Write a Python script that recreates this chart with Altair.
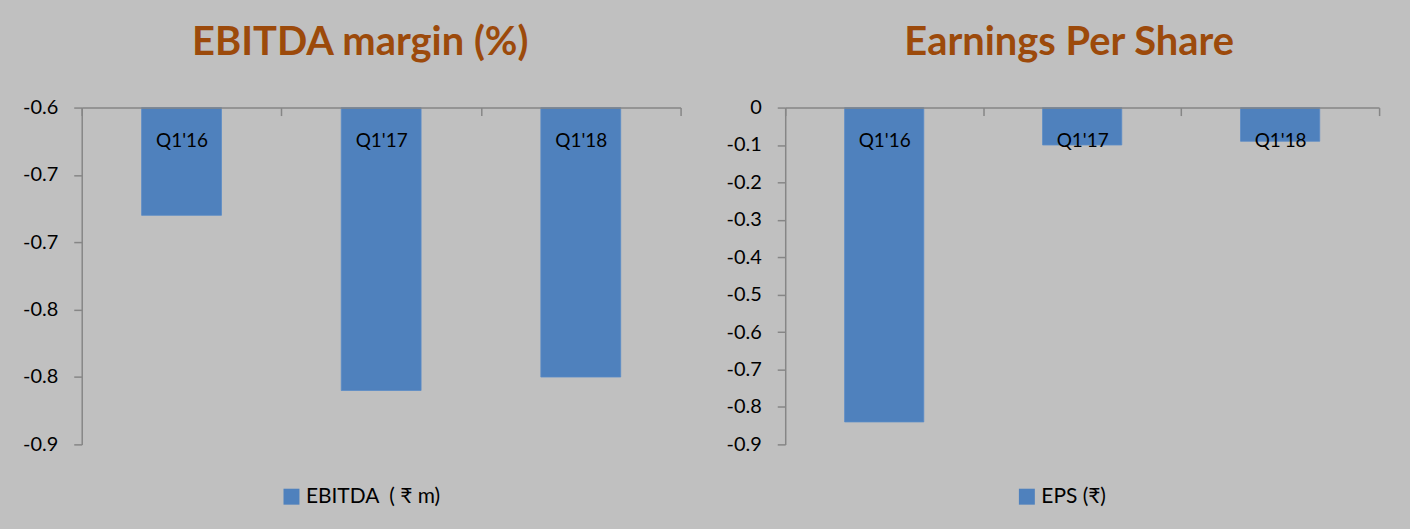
import json
import altair as alt
import pandas as pd

quarters = ["Q1'16", "Q1'17", "Q1'18"]
ebitda_values = [-0.68, -0.81, -0.80]
eps_values = [-0.84, -0.10, -0.09]

ebitda_ticks = [-0.6, -0.65, -0.7, -0.75, -0.8, -0.85]
ebitda_tick_labels = ["-0.6", "-0.7", "-0.7", "-0.8", "-0.8", "-0.9"]
eps_ticks = [0, -0.1, -0.2, -0.3, -0.4, -0.5, -0.6, -0.7, -0.8, -0.9]
eps_tick_labels = ["0", "-0.1", "-0.2", "-0.3", "-0.4", "-0.5", "-0.6", "-0.7", "-0.8", "-0.9"]

FONT = "Lato"
AXIS_GRAY = "#868686"
BAR_BLUE = "#4F81BD"
TITLE_BROWN = "#9C4A0B"
H = 338


def panel(title, values, top, bottom, ticks, tick_labels, series, width, title_dx, legend_x):
    df = pd.DataFrame({"q": quarters, "v": values, "s": [series] * len(quarters)})
    label_expr = f"{json.dumps(tick_labels)}[indexof({json.dumps(ticks)}, datum.value)]"
    return (
        alt.Chart(df)
        .mark_bar(width=alt.RelativeBandSize(0.4), stroke="#5B8CC6", strokeWidth=0.8)
        .encode(
            x=alt.X(
                "q:N",
                sort=quarters,
                scale=alt.Scale(paddingInner=0, paddingOuter=0),
                axis=alt.Axis(
                    orient="bottom",
                    offset=-H,
                    zindex=1,
                    title=None,
                    tickBand="extent",
                    tickSize=8,
                    tickColor=AXIS_GRAY,
                    tickWidth=1.5,
                    domainColor=AXIS_GRAY,
                    domainWidth=1.5,
                    labelPadding=16,
                    labelFont=FONT,
                    labelFontSize=19,
                    labelColor="black",
                    labelAngle=0,
                ),
            ),
            y=alt.Y(
                "v:Q",
                scale=alt.Scale(domain=[bottom, top], nice=False, zero=False),
                axis=alt.Axis(
                    title=None,
                    values=ticks,
                    labelExpr=label_expr,
                    grid=False,
                    tickSize=8,
                    tickColor=AXIS_GRAY,
                    tickWidth=1.5,
                    domainColor=AXIS_GRAY,
                    domainWidth=1.5,
                    labelPadding=16,
                    labelFont=FONT,
                    labelFontSize=20,
                    labelColor="black",
                ),
            ),
            y2=alt.datum(top),
            color=alt.Color(
                "s:N",
                scale=alt.Scale(range=[BAR_BLUE]),
                legend=alt.Legend(
                    title=None,
                    orient="none",
                    legendX=legend_x,
                    legendY=380,
                    symbolType="square",
                    symbolSize=256,
                    symbolStrokeWidth=0,
                    symbolOpacity=1,
                    labelFont=FONT,
                    labelFontSize=21,
                    labelColor="black",
                    labelOffset=4,
                ),
            ),
        )
        .properties(
            width=width,
            height=H,
            title=alt.TitleParams(
                title,
                font=FONT,
                fontSize=40,
                fontWeight="bold",
                color=TITLE_BROWN,
                anchor="middle",
                frame="group",
                dx=title_dx,
                offset=35,
            ),
        )
    )


left = panel("EBITDA margin (%)", ebitda_values, -0.6, -0.85, ebitda_ticks,
             ebitda_tick_labels, "EBITDA\u00a0\u00a0( \u20b9 m)", 601, -21, 200)
right = panel("Earnings Per Share", eps_values, 0, -0.9, eps_ticks,
              eps_tick_labels, "EPS (\u20b9)", 596, -13, 232)

chart = (
    alt.hconcat(left, right, spacing=44)
    .resolve_scale(color="independent")
    .properties(padding={"left": 22, "top": 22, "right": 30, "bottom": 30})
    .configure(background="#C0C0C0")
    .configure_view(stroke=None)
)

chart.save("out.html", embed_options={"renderer": "svg", "actions": False})
